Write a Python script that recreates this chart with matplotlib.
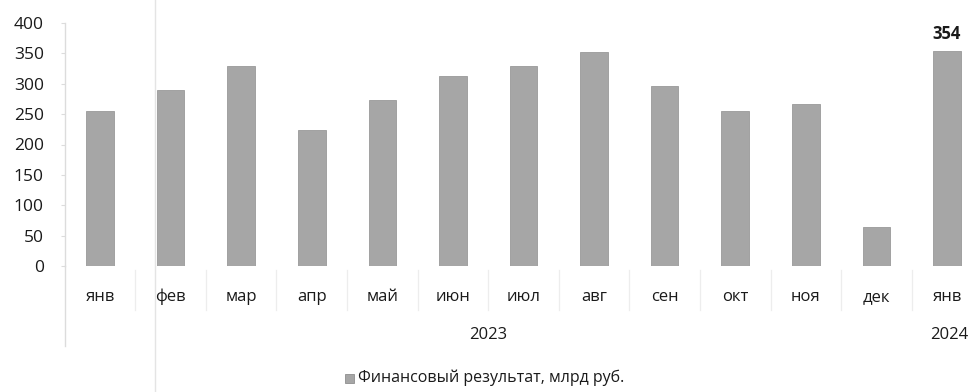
import matplotlib
matplotlib.use("Agg")
import matplotlib.pyplot as plt
from matplotlib.lines import Line2D
from matplotlib.patches import Rectangle

plt.rcParams['font.family'] = ['Open Sans', 'DejaVu Sans']

months = ["янв", "фев", "мар", "апр", "май", "июн", "июл", "авг", "сен", "окт", "ноя", "дек", "янв"]
years = ["2023", "2024"]
year_groups = [(0, 11), (12, 12)]
values = [255, 290, 329, 224, 273, 312, 329, 352, 296, 255, 267, 64, 354]
labelled = {12: "354"}
yticks = [0, 50, 100, 150, 200, 250, 300, 350, 400]
legend_label = "Финансовый результат, млрд руб."

bar_color = "#a6a6a6"
text_color = "#1a1a1a"
line_color = "#dcdcdc"
sep_color = "#ededed"

W, H = 968, 392
fig = plt.figure(figsize=(W / 100, H / 100), dpi=100)
ax_left, ax_w = 64.7 / W, 917.6 / W
ax_bottom = (H - 266) / H
ax_top = (H - 23) / H
ax_h = ax_top - ax_bottom
ax = fig.add_axes([ax_left, ax_bottom, ax_w, ax_h])
px = 1 / (ax_h * H)  # one pixel in axes-height units

x = list(range(len(months)))
ax.bar(x, values, width=0.39, color=bar_color, edgecolor="#999999", linewidth=0.6)

ax.set_xlim(-0.5, len(months) - 0.5)
ax.set_ylim(0, 400)
ax.set_yticks(yticks)
ax.set_yticklabels([str(v) for v in yticks], fontsize=12.5, color=text_color)
ax.tick_params(axis="y", length=3, color=line_color, pad=12)
ax.set_xticks([])

for s in ["top", "right", "bottom"]:
    ax.spines[s].set_visible(False)
ax.spines["left"].set_color(line_color)
ax.spines["left"].set_linewidth(1.0)

# value label on the last bar
for i, t in labelled.items():
    ax.annotate(t, (i, values[i]), xytext=(0, 6), textcoords="offset points",
                ha="center", va="bottom", fontsize=12, fontweight="bold", color=text_color)

# multi-level category axis
trans = ax.get_xaxis_transform()
for i, m in enumerate(months):
    ax.text(i, -31 * px, m, transform=trans, ha="center", va="center",
            fontsize=12, color=text_color)

# separators between months
for i in range(len(months) + 1):
    xb = i - 0.5
    if i == 0:
        ax.add_line(Line2D([xb, xb], [0, -80 * px], transform=trans, color=line_color,
                           linewidth=1.0, clip_on=False))
    else:
        ax.add_line(Line2D([xb, xb], [-4 * px, -44 * px], transform=trans, color=sep_color,
                           linewidth=0.9, clip_on=False))

for label, (a, b) in zip(years, year_groups):
    ax.text((a + b) / 2 + (0.03 if a == b else 0), -69 * px, label, transform=trans,
            ha="center", va="center", fontsize=12, color=text_color)

# legend
leg_y = (H - 378) / H
fig.patches.append(Rectangle((345 / W, leg_y - 4.5 / H), 9 / W, 9 / H,
                             transform=fig.transFigure, facecolor=bar_color,
                             edgecolor="#8f8f8f", linewidth=0.6))
fig.text(358 / W, leg_y, legend_label, ha="left", va="center", fontsize=11.5, color=text_color)

# faint vertical fold line
fig.add_artist(Line2D([155 / W, 155 / W], [0, 1], transform=fig.transFigure,
                      color="#e4e4e4", linewidth=1.0))

fig.savefig("out.png", dpi=100, facecolor="white")
